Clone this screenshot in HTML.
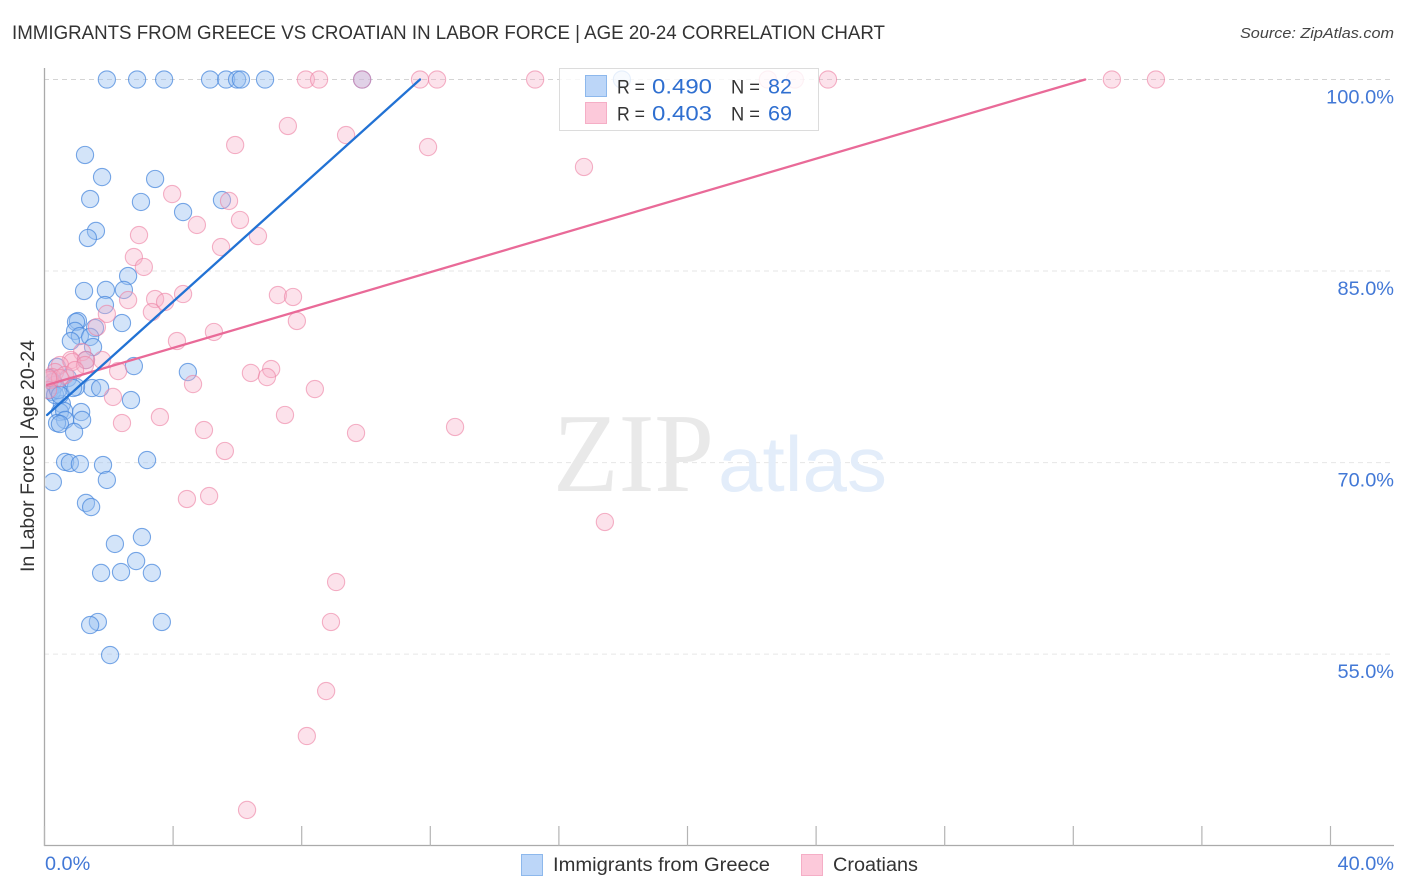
<!DOCTYPE html>
<html lang="en">
<head>
<meta charset="utf-8">
<title>Immigrants from Greece vs Croatian in Labor Force | Age 20-24 Correlation Chart</title>
<style>
html,body{margin:0;padding:0;background:#fff;width:1406px;height:892px;overflow:hidden}
svg{display:block}
text{font-family:"Liberation Sans",sans-serif}
</style>
</head>
<body>
<svg id="chart" xmlns="http://www.w3.org/2000/svg" width="1406" height="892" viewBox="0 0 1406 892">
  <defs><clipPath id="plot-clip"><rect x="45.5" y="60" width="1349" height="785"/></clipPath></defs>
  <text x="12" y="39" font-size="19" fill="#333" textLength="873" lengthAdjust="spacingAndGlyphs">IMMIGRANTS FROM GREECE VS CROATIAN IN LABOR FORCE | AGE 20-24 CORRELATION CHART</text>
  <text x="1394" y="38" font-size="15" font-style="italic" fill="#444" text-anchor="end" textLength="154" lengthAdjust="spacingAndGlyphs">Source: ZipAtlas.com</text>
  <g id="grid"></g>
  <g>
    <text x="553" y="491" font-size="112" fill="#e9e9e9" textLength="161" lengthAdjust="spacingAndGlyphs" style="font-family:'Liberation Serif',serif">ZIP</text>
    <text x="718" y="491" font-size="78" fill="#e3edfa" textLength="169" lengthAdjust="spacingAndGlyphs">atlas</text>
  </g>
  <g id="axes"></g>
  <g id="points" clip-path="url(#plot-clip)"></g>
  <g id="trends"></g>
  <text transform="translate(34,456) rotate(-90)" font-size="19" fill="#333" text-anchor="middle" textLength="232" lengthAdjust="spacingAndGlyphs">In Labor Force | Age 20-24</text>
  <g>
    <rect x="559.5" y="68.5" width="259" height="62" fill="#fff" fill-opacity="0.82" stroke="#dcdcdc" stroke-width="1"/>
    <rect x="585.5" y="75.5" width="21" height="21" fill="#bcd6f8" stroke="#8db8ec"/>
    <rect x="585.5" y="102.5" width="21" height="21" fill="#fcc9da" stroke="#f5aec6"/>
    <text x="617" y="93.5" font-size="19" fill="#333" textLength="28" lengthAdjust="spacingAndGlyphs">R =</text>
    <text x="652" y="93.5" font-size="21" fill="#2f6fd0" textLength="60" lengthAdjust="spacingAndGlyphs">0.490</text>
    <text x="731" y="93.5" font-size="19" fill="#333" textLength="29" lengthAdjust="spacingAndGlyphs">N =</text>
    <text x="768" y="93.5" font-size="21" fill="#2f6fd0" textLength="24" lengthAdjust="spacingAndGlyphs">82</text>
    <text x="617" y="120.5" font-size="19" fill="#333" textLength="28" lengthAdjust="spacingAndGlyphs">R =</text>
    <text x="652" y="120.5" font-size="21" fill="#2f6fd0" textLength="60" lengthAdjust="spacingAndGlyphs">0.403</text>
    <text x="731" y="120.5" font-size="19" fill="#333" textLength="29" lengthAdjust="spacingAndGlyphs">N =</text>
    <text x="768" y="120.5" font-size="21" fill="#2f6fd0" textLength="24" lengthAdjust="spacingAndGlyphs">69</text>
  </g>
  <g>
    <rect x="521.5" y="854.5" width="21" height="21" fill="#bcd6f8" stroke="#8db8ec"/>
    <text x="553" y="871" font-size="19" fill="#333" textLength="217" lengthAdjust="spacingAndGlyphs">Immigrants from Greece</text>
    <rect x="801.5" y="854.5" width="21" height="21" fill="#fcc9da" stroke="#f5aec6"/>
    <text x="833" y="871" font-size="19" fill="#333" textLength="85" lengthAdjust="spacingAndGlyphs">Croatians</text>
  </g>
</svg>
<script>
const xTickValues = [0, 4, 8, 12, 16, 20, 24, 28, 32, 36, 40];
const xTickLabels = ["0.0%", "40.0%"];
const yTickValues = [100, 85, 70, 55];
const yTickLabels = ["100.0%", "85.0%", "70.0%", "55.0%"];

const greeceX = [1.94,2.88,3.72,5.15,5.65,5.99,6.11,6.86,9.88,17.96,1.26,1.79,3.44,1.42,3.00,5.52,4.31,1.60,1.35,2.60,1.23,1.91,2.47,1.88,2.41,1.04,0.98,0.95,1.10,0.82,1.57,1.42,1.51,1.29,2.78,0.39,4.46,0.73,0.26,0.17,0.33,1.48,1.73,0.98,0.89,2.69,0.54,0.48,0.61,1.14,0.64,1.17,0.39,0.48,0.92,3.19,1.82,0.64,0.79,1.10,0.26,1.94,1.29,1.45,3.03,2.19,2.85,1.76,2.38,3.34,1.66,1.42,3.65,2.04,0.23,0.17,0.33,0.42,0.48];
const greeceY = [100,100,100,100,100,100,100,100,100,100,94.09,92.36,92.21,90.64,90.41,90.56,89.62,88.14,87.59,84.61,83.44,83.52,83.52,82.34,80.93,81.09,81.01,80.31,79.91,79.52,80.54,79.84,79.05,78.03,77.56,77.49,77.09,76.62,76.31,75.68,76.08,75.84,75.84,75.92,75.84,74.90,74.59,73.96,74.04,73.96,73.34,73.34,73.10,73.02,72.40,70.20,69.81,70.05,69.97,69.89,68.48,68.64,66.84,66.52,64.17,63.63,62.29,61.36,61.43,61.36,57.52,57.28,57.52,54.93,75.53,76.62,75.29,75.68,75.29];

const croatiansX = [8.13,8.54,9.88,11.68,12.21,15.26,22.50,23.34,24.37,33.20,34.57,7.57,9.38,11.93,5.93,16.78,3.97,5.74,4.74,6.08,6.64,2.94,5.49,2.78,3.09,4.31,7.26,7.73,3.44,3.75,2.60,3.34,1.94,7.85,1.63,5.27,4.12,1.17,0.82,0.86,1.29,1.79,0.48,1.26,7.05,6.42,6.92,2.29,4.62,8.41,2.13,3.59,7.48,2.41,4.96,9.69,12.77,5.61,4.43,5.12,17.43,9.07,8.91,8.76,8.16,6.30,0.33,0.23,0.17,0.64,0.95,0.11,0.48,0.11];
const croatiansY = [100,100,100,100,100,100,100,100,100,100,100,96.36,95.65,94.71,94.87,93.15,91.03,90.49,88.61,89.00,87.74,87.82,86.88,86.10,85.32,83.20,83.12,82.97,82.81,82.58,82.73,81.79,81.64,81.09,80.62,80.23,79.52,78.66,78.03,77.88,78.03,78.03,77.64,77.64,77.33,77.02,76.70,77.17,76.15,75.76,75.14,73.57,73.73,73.10,72.55,72.32,72.79,70.91,67.15,67.38,65.35,60.65,57.52,52.11,48.59,42.80,77.09,76.70,76.47,76.86,77.25,75.68,76.62,76.62];

const greeceTrendX = [0.08, 11.68];
const greeceTrendY = [73.73, 100];
const croatiansTrendX = [0.08, 32.37];
const croatiansTrendY = [76.08, 100];

const NS = 'http://www.w3.org/2000/svg';
function xScale(v) { return 44.5 + v * 32.15; }
function yScale(v) { return 79.5 + (100 - v) * 12.77; }
function make(tag, attrs, parent) {
  const el = document.createElementNS(NS, tag);
  for (const k in attrs) el.setAttribute(k, attrs[k]);
  parent.appendChild(el);
  return el;
}

const grid = document.getElementById('grid');
yTickValues.forEach(function (v) {
  const line = make('line', {x1: 44, x2: 1394, y1: yScale(v), y2: yScale(v), stroke: v === 100 ? '#d4d4d4' : '#e6e6e6', 'stroke-width': 1, 'stroke-dasharray': '5 4'}, grid);
  
  
});

const axes = document.getElementById('axes');
const yAxisLine = make('line', {x1: 44.5, x2: 44.5, y1: 68, y2: 846, stroke: '#aaaaaa', 'stroke-width': 1.3}, axes);


const xAxisLine = make('line', {x1: 44, x2: 1394, y1: 845.5, y2: 845.5, stroke: '#aaaaaa', 'stroke-width': 1.3}, axes);



xTickValues.forEach(function (v) {
  const tick = make('line', {x1: xScale(v), x2: xScale(v), y1: 826, y2: 846, stroke: '#b4b4b4', 'stroke-width': 1.2}, axes);
  
  
});

function tickText(label, x, y, anchor) {
  const t = make('text', {x: x, y: y, 'font-size': 19, fill: '#4278d6', 'text-anchor': anchor, textLength: 11.3 * label.length, lengthAdjust: 'spacingAndGlyphs'}, axes);
  t.textContent = label;
  return t;
}
yTickLabels.forEach(function (label, i) {
  const t = tickText(label, 1394, yScale(yTickValues[i]) + 24, 'end');
  
  
});
const xLabelLeft = tickText(xTickLabels[0], 45, 870, 'start');


const xLabelRight = tickText(xTickLabels[1], 1394, 870, 'end');



const points = document.getElementById('points');
greeceX.forEach(function (v, i) {
  const c = make('circle', {cx: xScale(v), cy: yScale(greeceY[i]), r: 8.6, fill: 'rgba(150,190,240,0.42)', stroke: 'rgba(70,135,220,0.72)', 'stroke-width': 1.1}, points);
  
  
});
croatiansX.forEach(function (v, i) {
  const c = make('circle', {cx: xScale(v), cy: yScale(croatiansY[i]), r: 8.6, fill: 'rgba(248,175,200,0.36)', stroke: 'rgba(238,130,165,0.62)', 'stroke-width': 1.1}, points);
  
  
});

const trends = document.getElementById('trends');
const trendCroatians = make('line', {x1: xScale(croatiansTrendX[0]), y1: yScale(croatiansTrendY[0]), x2: xScale(croatiansTrendX[1]), y2: yScale(croatiansTrendY[1]), stroke: '#e96a98', 'stroke-width': 2.3, 'stroke-linecap': 'round'}, trends);


const trendGreece = make('line', {x1: xScale(greeceTrendX[0]), y1: yScale(greeceTrendY[0]), x2: xScale(greeceTrendX[1]), y2: yScale(greeceTrendY[1]), stroke: '#2272d4', 'stroke-width': 2.3, 'stroke-linecap': 'round'}, trends);


</script>
</body>
</html>
